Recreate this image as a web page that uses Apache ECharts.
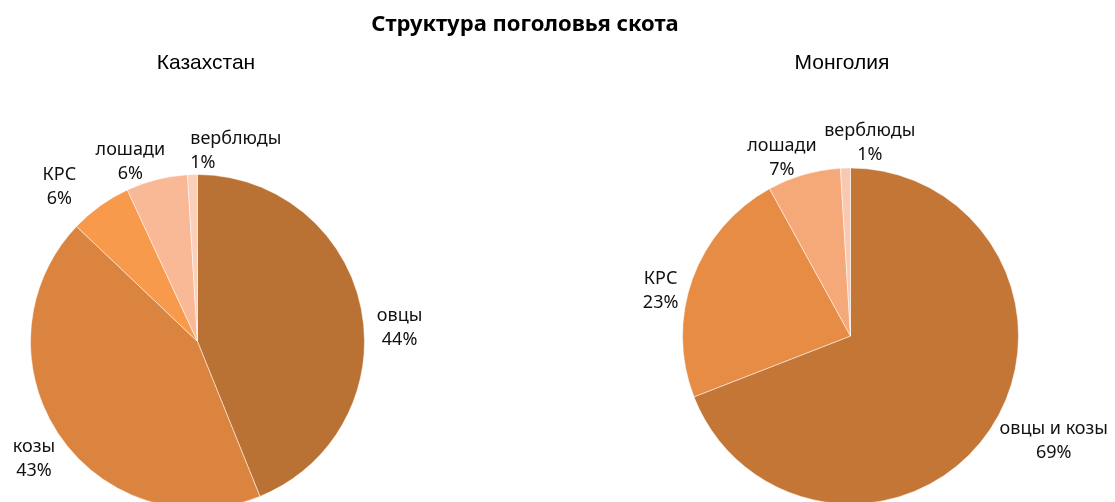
<!DOCTYPE html>
<html>
<head>
<meta charset="utf-8">
<script src="https://cdn.jsdelivr.net/npm/echarts@6/dist/echarts.min.js"></script>
<style>
  html, body { margin: 0; padding: 0; background: #fff; }
  #chart { width: 1115px; height: 502px; }
</style>
</head>
<body>
<div id="chart"></div>
<script>
  // Казахстан
  var kzNames = ['овцы', 'козы', 'КРС', 'лошади', 'верблюды']
  var kzValues = [43.9, 43.2, 6.0, 5.95, 0.95]
  var kzLabels = ['44%', '43%', '6%', '6%', '1%']
  // Монголия
  var mnNames = ['овцы и козы', 'КРС', 'лошади', 'верблюды']
  var mnValues = [69.1, 22.9, 7.05, 0.95]
  var mnLabels = ['69%', '23%', '7%', '1%']

  var kzColors = ['#b97234', '#db8440', '#f79a4c', '#f9b896', '#fbcfba']
  var mnColors = ['#c37636', '#e68c44', '#f6a978', '#f8c8b0']

  var font = 'Noto Sans'

  // pie geometry + small label nudges (like Excel's "best fit" moving labels apart)
  var pies = [
    { name: 'Казахстан', center: [197.5, 341.5], radius: 167, values: kzValues,
      nudge: [[4, 25], [2, 3], [-24, 10], [-15, 17], [45, 12]],
      align: ['center', 'center', 'center', 'center', 'left'] },
    { name: 'Монголия', center: [850.5, 336], radius: 168, values: mnValues,
      nudge: [[10, -10], [-4, 25], [-9, 18], [26, 11]],
      align: ['center', 'center', 'center', 'center'] }
  ]

  function buildData (names, values, labels, colors) {
    return names.map(function (n, i) {
      return { name: n, value: values[i], pct: labels[i], itemStyle: { color: colors[i] } }
    })
  }

  // place label box just outside the slice, along its middle angle
  function placeLabel (p) {
    var pie = pies[p.seriesIndex]
    var vals = pie.values
    var total = vals.reduce(function (a, b) { return a + b }, 0)
    var before = 0
    for (var i = 0; i < p.dataIndex; i++) before += vals[i]
    var ang = (before + vals[p.dataIndex] / 2) / total * Math.PI * 2
    var dx = Math.sin(ang)
    var dy = -Math.cos(ang)
    var w = p.labelRect.width
    var h = p.labelRect.height
    var d = pie.radius + 12
    var n = pie.nudge[p.dataIndex]
    var al = pie.align[p.dataIndex]
    var x = pie.center[0] + dx * d + dx * w / 2 + n[0]
    if (al === 'left') x -= w / 2
    return {
      x: x,
      y: pie.center[1] + dy * d + dy * h / 2 + n[1],
      align: al,
      verticalAlign: 'middle'
    }
  }

  function pieSeries (pie, data) {
    return {
      name: pie.name,
      type: 'pie',
      radius: pie.radius,
      center: pie.center,
      startAngle: 90,
      clockwise: true,
      animation: false,
      avoidLabelOverlap: false,
      data: data,
      itemStyle: { borderColor: '#ffffff', borderWidth: 0.5 },
      label: {
        show: true,
        position: 'outside',
        fontFamily: font,
        fontSize: 18,
        color: '#111',
        lineHeight: 24,
        overflow: 'none',
        formatter: function (p) { return p.name + '\n' + p.data.pct }
      },
      labelLine: { show: false, length: 8, length2: 0 },
      labelLayout: placeLabel,
      emphasis: { disabled: true }
    }
  }

  var chart = echarts.init(document.getElementById('chart'))
  var option = {
    backgroundColor: '#ffffff',
    title: [
      {
        text: 'Структура поголовья скота',
        left: 520,
        top: 9,
        textAlign: 'center',
        textStyle: { fontFamily: font, fontSize: 22, fontWeight: 'bold', color: '#000' }
      },
      {
        text: 'Казахстан',
        left: 201,
        top: 48,
        textAlign: 'center',
        textStyle: { fontFamily: 'Liberation Sans', fontSize: 21, fontWeight: 'normal', color: '#000' }
      },
      {
        text: 'Монголия',
        left: 837,
        top: 48,
        textAlign: 'center',
        textStyle: { fontFamily: 'Liberation Sans', fontSize: 21, fontWeight: 'normal', color: '#000' }
      }
    ],
    series: [
      pieSeries(pies[0], buildData(kzNames, kzValues, kzLabels, kzColors)),
      pieSeries(pies[1], buildData(mnNames, mnValues, mnLabels, mnColors))
    ]
  }
  chart.setOption(option)
</script>
</body>
</html>
